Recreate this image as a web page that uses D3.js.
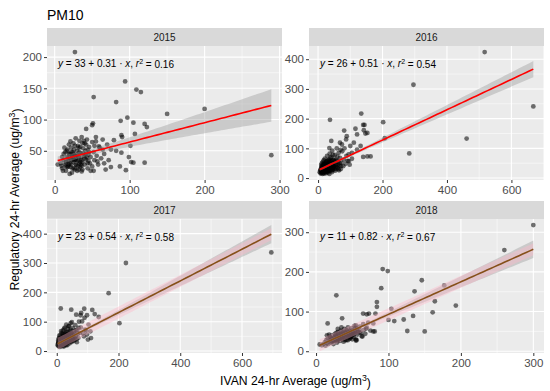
<!DOCTYPE html>
<html>
<head>
<meta charset="utf-8">
<script src="https://cdnjs.cloudflare.com/ajax/libs/d3/7.8.5/d3.min.js"></script>
<style>
body { margin: 0; background: #fff; }
text { font-family: "Liberation Sans", Arial, sans-serif; }
</style>
</head>
<body>
<script>
(function(){

    var years = ["2015", "2016", "2017", "2018"];

    // [IVAN, regulatory] pairs
    var points2015 = [
        [27,208],[94,161],[109,148],[115,144],[52,136],[82,128],[200,117],[150,109],[97,103],[88,98],
        [105,95],[51,94],[50,91],[120,93],[123,88],[289,43],[42,85],[89,75],[90,72],[107,77],
        [79,67],[70,60],[101,58],[82,50],[89,47],[99,40],[102,32],[105,31],[120,31],[87,25],
        [95,19],[75,24],[66,30],[52,18],[36,17],[55,65],[59,57],[64,52],
        [4,28],[8,30],[10,22],[12,35],[12,45],[14,28],[15,18],[16,40],[17,52],[18,25],[18,33],[19,60],
        [20,13],[20,45],[21,38],[22,28],[22,55],[23,15],[24,48],[25,32],[25,62],[26,22],[27,42],[28,36],
        [28,70],[29,27],[30,50],[30,18],[31,58],[32,40],[33,30],[33,66],[34,24],[35,46],[36,35],[36,72],
        [37,20],[38,54],[39,42],[40,28],[40,62],[41,50],[42,36],[43,68],[44,22],[45,44],[46,56],[47,30],
        [48,40],[50,64],[50,25],[52,48],[53,35],[55,72],[56,42],[58,28],[60,55],[62,38],[64,68],[66,45],
        [68,20],[10,40],[13,55],[15,32],[17,24],[19,45],[21,65],[23,35],[26,52],[29,44],[31,25],[34,56],
        [37,32],[9,26],[11,18],[14,48],[24,40],[27,58],[32,20],[35,38],[39,66],[44,52],[48,18],[53,58],
        [57,33],[72,35],[75,52],
        [15,25],[18,38],[20,30],[22,48],[24,22],[26,35],[28,28],[30,42],[32,55],[34,32],[36,26],[38,46],
        [40,38],[42,60],[44,30],[46,48],[16,50],[19,28],[23,42],[27,20],[31,34],[33,48],[37,62],[41,44],
        [45,34],[25,45],[29,35],[35,28],[43,40],[21,24]
    ];
    var points2016 = [
        [517,424],[296,314],[668,241],[461,133],[283,83],[37,196],[134,217],[202,188],[207,134],[140,179],
        [144,179],[116,166],[142,161],[81,160],[147,150],[153,152],[89,141],[121,147],[41,125],[111,119],
        [132,108],[121,96],[163,73],[140,71],[153,73],[100,108],[74,113],[95,57],[105,85],[35,101],
        [68,119],[87,130],
        [5,20],[8,15],[9,30],[10,45],[11,18],[12,25],[13,38],[14,14],[15,55],[16,22],[17,32],[18,15],
        [19,48],[20,28],[21,65],[22,20],[23,40],[24,16],[25,52],[26,30],[27,22],[28,75],[29,42],[30,18],
        [31,35],[32,60],[33,26],[34,48],[35,14],[36,82],[37,38],[38,24],[39,56],[40,30],[41,70],[42,44],
        [43,20],[44,92],[45,35],[46,60],[47,28],[48,50],[50,40],[52,78],[53,25],[55,62],[56,45],[58,100],
        [60,35],[62,55],[64,85],[66,42],[68,68],[70,30],[72,52],[75,90],[78,40],[80,62],[85,48],[88,75],
        [92,58],[10,35],[12,50],[14,28],[16,42],[18,60],[20,38],[22,50],[24,32],[26,44],[28,58],[30,25],
        [32,46],[34,38],[36,28],[38,68],[40,52],[42,34],[44,46],[46,78],[48,38],[52,56],[56,30],[60,72],
        [65,26],[70,95],[82,100],[95,80],[98,45],[105,65],
        [7,25],[9,18],[11,40],[13,22],[15,30],[17,45],[19,20],[21,34],[23,28],[25,38],[27,48],[29,30],
        [31,22],[33,42],[35,55],[37,26],[39,36],[41,46],[43,30],[45,50],[47,40],[49,62],[51,32],[54,48],
        [57,38],[59,58],[61,44],[63,30],[67,50],[71,40],[8,28],[10,22],[12,32],[14,40],[16,18],[18,30],
        [20,48],[22,34],[24,24],[26,56],[28,40],[30,32],[32,28],[34,62],[36,45],[38,34],[40,42],[42,58],
        [44,26],[46,36]
    ];
    var points2017 = [
        [695,336],[224,300],[168,197],[203,95],[13,145],[47,141],[89,144],[115,140],[79,130],[77,122],
        [63,124],[98,122],[90,113],[136,116],[123,126],[49,98],[82,101],[103,90],[92,73],[109,67],
        [98,56],[71,79],[111,44],[101,39],
        [3,20],[5,28],[6,16],[7,35],[8,22],[9,45],[10,14],[11,30],[12,55],[13,25],[14,40],[15,18],
        [16,62],[17,34],[18,48],[19,22],[20,70],[21,38],[22,28],[23,55],[24,16],[25,44],[26,80],[27,32],
        [28,60],[29,24],[30,50],[31,90],[32,36],[33,66],[34,20],[35,46],[36,75],[37,30],[38,58],[39,40],
        [40,85],[41,26],[42,52],[43,68],[44,36],[45,95],[46,48],[47,30],[48,62],[50,42],[52,78],[54,55],
        [55,34],[57,68],[58,46],[60,88],[62,52],[64,40],[66,72],[68,58],[70,45],[72,100],[75,62],[78,80],
        [85,60],[88,50],[95,70],[8,52],[10,38],[12,26],[14,68],[16,44],[18,32],[20,58],[22,42],[24,76],
        [26,50],[28,36],[30,64],[32,46],[34,56],[36,40],[38,84],[40,50],[42,34],[44,60],[46,72],[48,44],
        [52,38],[56,60],[62,70],[65,30],[12,18],[20,16],[30,20],[6,42],
        [4,24],[6,30],[7,18],[9,26],[11,40],[13,34],[15,28],[17,22],[19,42],[21,30],[23,36],[25,26],
        [27,46],[29,38],[31,28],[33,44],[35,34],[37,52],[39,30],[41,42],[43,48],[45,38],[47,56],[49,34],
        [51,50],[53,44],[5,36],[8,30],[10,24],[12,44],[14,32],[16,26],[18,38],[20,28],[22,50],[24,34],
        [26,40],[28,28],[30,36],[32,54],[34,44],[36,32],[38,48],[40,36],[42,44],[44,50],[46,40],[50,56],
        [54,46],[58,38]
    ];
    var points2018 = [
        [300,318],[260,255],[92,207],[99,202],[146,179],[90,159],[177,166],[136,151],[28,141],[84,124],
        [164,126],[84,112],[193,115],[104,107],[82,95],[161,98],[134,89],[121,80],[100,79],[108,76],
        [79,70],[126,51],[150,50],[16,70],[36,83],[65,95],[70,93],[73,95],[79,50],[81,50],
        [69,57],[55,65],[64,37],[55,27],[46,33],
        [5,17],[8,15],[10,18],[12,22],[13,14],[14,28],[15,20],[16,32],[17,18],[18,25],[19,36],[20,22],
        [21,30],[22,40],[23,26],[24,18],[25,34],[26,44],[27,28],[28,38],[29,22],[30,48],[31,32],[32,42],
        [33,26],[34,52],[35,36],[36,30],[37,46],[38,40],[39,56],[40,34],[41,48],[42,28],[43,42],[44,60],
        [45,38],[46,50],[47,32],[48,44],[49,58],[50,40],[51,52],[52,36],[53,64],[54,46],[55,30],[56,56],
        [57,42],[58,50],[60,62],[62,46],[63,38],[65,68],[66,54],[68,44],[70,60],[72,72],[75,52],[24,30],
        [26,36],[28,46],[30,28],[32,36],[34,44],[36,50],[38,32],[40,42],[42,54],[44,46],[46,40],[48,52],
        [50,30],[52,48],[54,58],[20,35],[22,24],[18,42],[30,56],[38,24],[56,28],[60,48],[35,60],[44,28],
        [15,40],
        [20,28],[22,32],[24,26],[26,30],[28,34],[30,38],[32,30],[34,36],[36,40],[38,44],[40,38],[42,44],
        [44,40],[46,44],[48,48],[50,46],[52,42],[54,50],[25,28],[27,40],[29,32],[31,44],[33,38],[35,42],
        [37,36],[39,46],[41,38],[43,50],[45,44],[47,48],[49,42],[51,46],[36,34],[40,28],[44,36],[48,36],
        [33,32],[29,26],[57,48],[60,54]
    ];
    var allPoints = [points2015, points2016, points2017, points2018];

    // fitted lines and r squared as printed in each panel
    var intercepts = [33, 26, 23, 11];
    var slopes = [0.31, 0.51, 0.54, 0.82];
    var r2Labels = ["0.16", "0.54", "0.58", "0.67"];

    // confidence band: half width = sqrt(base^2 + (k*(x-centre))^2)
    var ciCentre = [45, 40, 35, 40];
    var ciBase = [5, 4, 4, 3];
    var ciK = [0.1045, 0.0425, 0.0465, 0.0838];

    var xTicks = [[0, 100, 200, 300], [0, 200, 400, 600], [0, 200, 400, 600], [0, 100, 200, 300]];
    var yTicks = [[50, 100, 150, 200], [0, 100, 200, 300, 400], [0, 100, 200, 300, 400], [0, 100, 200, 300]];

    var colLeft = [47, 309],
        rowStrip = [28, 201],
        panelW = 235,
        stripH = 18,
        plotH = 134;

    var svg = d3.select("body")
        .append("svg")
        .attr("width", 550)
        .attr("height", 391);

    svg.append("rect")
        .attr("width", 550)
        .attr("height", 391)
        .attr("fill", "#fff");

    years.forEach(function(year, i){
        drawPanel(i);
    });

    // title and axis titles
    svg.append("text")
        .attr("x", 47)
        .attr("y", 19.5)
        .attr("font-size", 14)
        .attr("fill", "#000")
        .text("PM10");

    var xTitle = svg.append("text")
        .attr("x", (colLeft[0] + colLeft[1] + panelW) / 2)
        .attr("y", 385)
        .attr("text-anchor", "middle")
        .attr("font-size", 12.2)
        .attr("fill", "#000");
    addUnitTitle(xTitle, "IVAN 24-hr Average (ug/m");

    var yTitle = svg.append("text")
        .attr("transform", "translate(19," + ((rowStrip[0] + stripH + rowStrip[1] + stripH + plotH) / 2) + ") rotate(-90)")
        .attr("text-anchor", "middle")
        .attr("font-size", 12.2)
        .attr("fill", "#000");
    addUnitTitle(yTitle, "Regulatory 24-hr Average (ug/m");

    function addUnitTitle(sel, base){
        sel.append("tspan").text(base);
        sel.append("tspan").attr("dy", "-0.45em").attr("font-size", "0.72em").text("3");
        sel.append("tspan").attr("dy", "0.45em").text(")");
    }

    function expand(ext){
        var r = ext[1] - ext[0];
        return [ext[0] - r * 0.05, ext[1] + r * 0.05];
    }

    function minorOf(ticks, domain){
        var step = ticks[1] - ticks[0];
        var m = ticks.map(function(t){ return t - step / 2; });
        m.push(ticks[ticks.length - 1] + step / 2);
        return m.filter(function(v){ return v > domain[0] && v < domain[1]; });
    }

    function drawPanel(i){
        var pts = allPoints[i];
        var left = colLeft[i % 2],
            stripTop = rowStrip[Math.floor(i / 2)],
            top = stripTop + stripH;

        var fit = function(x){ return intercepts[i] + slopes[i] * x; };
        var hw = function(x){
            var d = ciK[i] * (x - ciCentre[i]);
            return Math.sqrt(ciBase[i] * ciBase[i] + d * d);
        };

        var xExt = d3.extent(pts, function(d){ return d[0]; });
        var band = d3.range(0, 61).map(function(k){
            var x = xExt[0] + (xExt[1] - xExt[0]) * k / 60;
            return { x: x, y: fit(x), lo: fit(x) - hw(x), hi: fit(x) + hw(x) };
        });
        var yVals = pts.map(function(d){ return d[1]; })
            .concat(band.map(function(b){ return b.lo; }))
            .concat(band.map(function(b){ return b.hi; }));

        var xDom = expand(xExt),
            yDom = expand(d3.extent(yVals));

        var x = d3.scaleLinear().domain(xDom).range([0, panelW]);
        var y = d3.scaleLinear().domain(yDom).range([plotH, 0]);

        // strip
        svg.append("rect")
            .attr("x", left)
            .attr("y", stripTop)
            .attr("width", panelW)
            .attr("height", stripH)
            .attr("fill", "#D9D9D9");
        svg.append("text")
            .attr("x", left + panelW / 2)
            .attr("y", stripTop + stripH / 2 + 3.6)
            .attr("text-anchor", "middle")
            .attr("font-size", 10)
            .attr("fill", "#1A1A1A")
            .text(years[i]);

        var g = svg.append("g")
            .attr("transform", "translate(" + left + "," + top + ")");

        g.append("rect")
            .attr("width", panelW)
            .attr("height", plotH)
            .attr("fill", "#EBEBEB");

        var xMajor = xTicks[i].filter(function(v){ return v >= xDom[0] && v <= xDom[1]; });
        var yMajor = yTicks[i].filter(function(v){ return v >= yDom[0] && v <= yDom[1]; });

        g.selectAll(".xMinor")
            .data(minorOf(xTicks[i], xDom))
            .enter().append("line")
            .attr("x1", function(d){ return x(d); })
            .attr("x2", function(d){ return x(d); })
            .attr("y1", 0).attr("y2", plotH)
            .attr("stroke", "#fff").attr("stroke-width", 0.5);
        g.selectAll(".yMinor")
            .data(minorOf(yTicks[i], yDom))
            .enter().append("line")
            .attr("y1", function(d){ return y(d); })
            .attr("y2", function(d){ return y(d); })
            .attr("x1", 0).attr("x2", panelW)
            .attr("stroke", "#fff").attr("stroke-width", 0.5);
        g.selectAll(".xMajor")
            .data(xMajor)
            .enter().append("line")
            .attr("x1", function(d){ return x(d); })
            .attr("x2", function(d){ return x(d); })
            .attr("y1", 0).attr("y2", plotH)
            .attr("stroke", "#fff").attr("stroke-width", 1.1);
        g.selectAll(".yMajor")
            .data(yMajor)
            .enter().append("line")
            .attr("y1", function(d){ return y(d); })
            .attr("y2", function(d){ return y(d); })
            .attr("x1", 0).attr("x2", panelW)
            .attr("stroke", "#fff").attr("stroke-width", 1.1);

        // points
        g.selectAll(".pt")
            .data(pts)
            .enter().append("circle")
            .attr("class", "pt")
            .attr("cx", function(d){ return x(d[0]); })
            .attr("cy", function(d){ return y(d[1]); })
            .attr("r", 2.4)
            .attr("fill", "#000")
            .attr("fill-opacity", 0.55);

        // confidence band
        var area = d3.area()
            .x(function(b){ return x(b.x); })
            .y0(function(b){ return y(b.lo); })
            .y1(function(b){ return y(b.hi); });
        g.append("path")
            .datum(band)
            .attr("d", area)
            .attr("fill", "#999")
            .attr("fill-opacity", 0.4);

        var lineColor = "#FF0000";
        if (i >= 2) {
            // pink band drawn along the fit in the lower panels
            var pink = d3.area()
                .x(function(b){ return x(b.x); })
                .y0(function(b){ return y(b.y) + 6; })
                .y1(function(b){ return y(b.y) - 6; });
            g.append("path")
                .datum(band)
                .attr("d", pink)
                .attr("fill", "#FFB6C8")
                .attr("fill-opacity", 0.4);
            lineColor = "#86501A";
        }

        g.append("path")
            .datum(band)
            .attr("d", d3.line()
                .x(function(b){ return x(b.x); })
                .y(function(b){ return y(b.y); }))
            .attr("fill", "none")
            .attr("stroke", lineColor)
            .attr("stroke-width", 1.6);

        // equation label
        var eq = g.append("text")
            .attr("x", 11)
            .attr("y", 21)
            .attr("font-size", 10)
            .attr("fill", "#000");
        eq.append("tspan").attr("font-style", "italic").text("y");
        eq.append("tspan").text(" = " + intercepts[i] + " + " + slopes[i].toFixed(2) + " \u00b7 ");
        eq.append("tspan").attr("font-style", "italic").text("x");
        eq.append("tspan").text(",  ");
        eq.append("tspan").attr("font-style", "italic").text("r");
        eq.append("tspan").attr("dy", "-0.4em").attr("font-size", "0.7em").text("2");
        eq.append("tspan").attr("dy", "0.4em").text(" = " + r2Labels[i]);

        // axes
        var xAxis = g.append("g")
            .attr("transform", "translate(0," + plotH + ")")
            .call(d3.axisBottom(x).tickValues(xMajor).tickSize(3).tickPadding(3));
        var yAxis = g.append("g")
            .call(d3.axisLeft(y).tickValues(yMajor).tickSize(3).tickPadding(2));
        [xAxis, yAxis].forEach(function(a){
            a.select(".domain").remove();
            a.selectAll(".tick line").attr("stroke", "#333");
            a.selectAll(".tick text")
                .attr("fill", "#4D4D4D")
                .attr("font-size", 11.5)
                .attr("font-family", "Liberation Sans, Arial, sans-serif");
        });
    }

})();
</script>
</body>
</html>
